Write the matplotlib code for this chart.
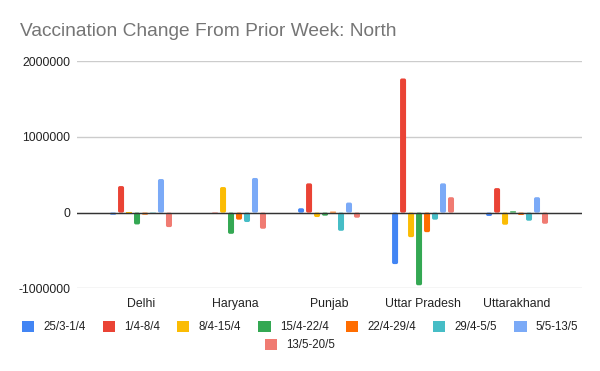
import matplotlib
matplotlib.use("Agg")
import matplotlib.pyplot as plt
from matplotlib.patches import Patch, FancyBboxPatch
from matplotlib.ticker import FuncFormatter
import numpy as np

plt.rcParams['font.family'] = ['Liberation Sans', 'DejaVu Sans']

states = ["Delhi", "Haryana", "Punjab", "Uttar Pradesh", "Uttarakhand"]
weeks = ["25/3-1/4", "1/4-8/4", "8/4-15/4", "15/4-22/4", "22/4-29/4",
         "29/4-5/5", "5/5-13/5", "13/5-20/5"]

w_25_3 = [-27000, -4000, 58000, -680000, -44000]
w_1_4 = [351000, -18000, 387000, 1773000, 324000]
w_8_4 = [2000, 338000, -58000, -324000, -160000]
w_15_4 = [-156000, -280000, -40000, -960000, 18000]
w_22_4 = [-27000, -93000, 13000, -258000, -31000]
w_29_4 = [-13000, -124000, -240000, -93000, -107000]
w_5_5 = [444000, 458000, 133000, 387000, 204000]
w_13_5 = [-191000, -213000, -67000, 204000, -147000]

series = [w_25_3, w_1_4, w_8_4, w_15_4, w_22_4, w_29_4, w_5_5, w_13_5]
colors = ["#4285F4", "#EA4335", "#FBBC04", "#34A853", "#FF6D01",
          "#46BDC6", "#7BAAF7", "#F07B72"]

W, H = 600, 371
fig = plt.figure(figsize=(W/100, H/100), dpi=100)
ax = fig.add_axes([77/W, 1-288.3/H, (582-77)/W, (288.3-61.3)/H])

xlim = (-0.681, 4.691)
ylim = (-1000000, 2000000)
ax.set_xlim(*xlim)
ax.set_ylim(*ylim)

x = np.arange(len(states))
step = 0.085
bw = 0.064
n = len(series)
# data units per pixel
ux = (xlim[1] - xlim[0]) / (582 - 77)
uy = (ylim[1] - ylim[0]) / (288.3 - 61.3)
aspect = uy / ux
for i, (vals, c) in enumerate(zip(series, colors)):
    bars = ax.bar(x + (i - (n-1)/2) * step, vals, width=bw, color=c, zorder=3)
    for rect in bars.patches:
        rx, ry = rect.get_x(), rect.get_y()
        rw, rh = rect.get_width(), rect.get_height()
        if rh < 0:
            ry, rh = ry + rh, -rh
        r_px = min(1.8, (rh / uy) / 2, (rw / ux) / 2)
        if r_px < 0.3:
            continue
        rect.set_visible(False)
        fb = FancyBboxPatch((rx, ry), rw, rh,
                            boxstyle=f"round,pad=0,rounding_size={r_px*ux}",
                            mutation_aspect=aspect, facecolor=c,
                            edgecolor='none', zorder=3)
        ax.add_patch(fb)

ax.set_yticks([-1000000, 0, 1000000, 2000000])
ax.yaxis.set_major_formatter(FuncFormatter(lambda v, p: f"{int(v)}"))
ax.set_xticks(x)
ax.set_xticklabels(states)
ax.grid(axis='y', color='#cccccc', linewidth=1, zorder=0)
ax.axhline(0, color='#333333', linewidth=1, zorder=4)
for s in ax.spines.values():
    s.set_visible(False)
ax.tick_params(axis='both', length=0, labelsize=8.8, colors='#222222')
ax.tick_params(axis='y', pad=5)
ax.tick_params(axis='x', pad=7)

fig.text(20/W, 1-31/H, "Vaccination Change From Prior Week: North",
         fontsize=13.8, color='#757575', va='center', ha='left')

handles = [Patch(facecolor=c, edgecolor='none') for c in colors]
leg1 = fig.legend(handles[:7], weeks[:7], loc='center', ncol=7,
                  bbox_to_anchor=(0.5, 1-327/H), frameon=False,
                  fontsize=8.3, handlelength=1.05, handleheight=1.05,
                  handletextpad=0.8, columnspacing=1.5, labelcolor='#222222')
leg2 = fig.legend(handles[7:], weeks[7:], loc='center', ncol=1,
                  bbox_to_anchor=(0.5, 1-345/H), frameon=False,
                  fontsize=8.3, handlelength=1.05, handleheight=1.05,
                  handletextpad=0.8, labelcolor='#222222')

fig.savefig("out.png", dpi=100)
